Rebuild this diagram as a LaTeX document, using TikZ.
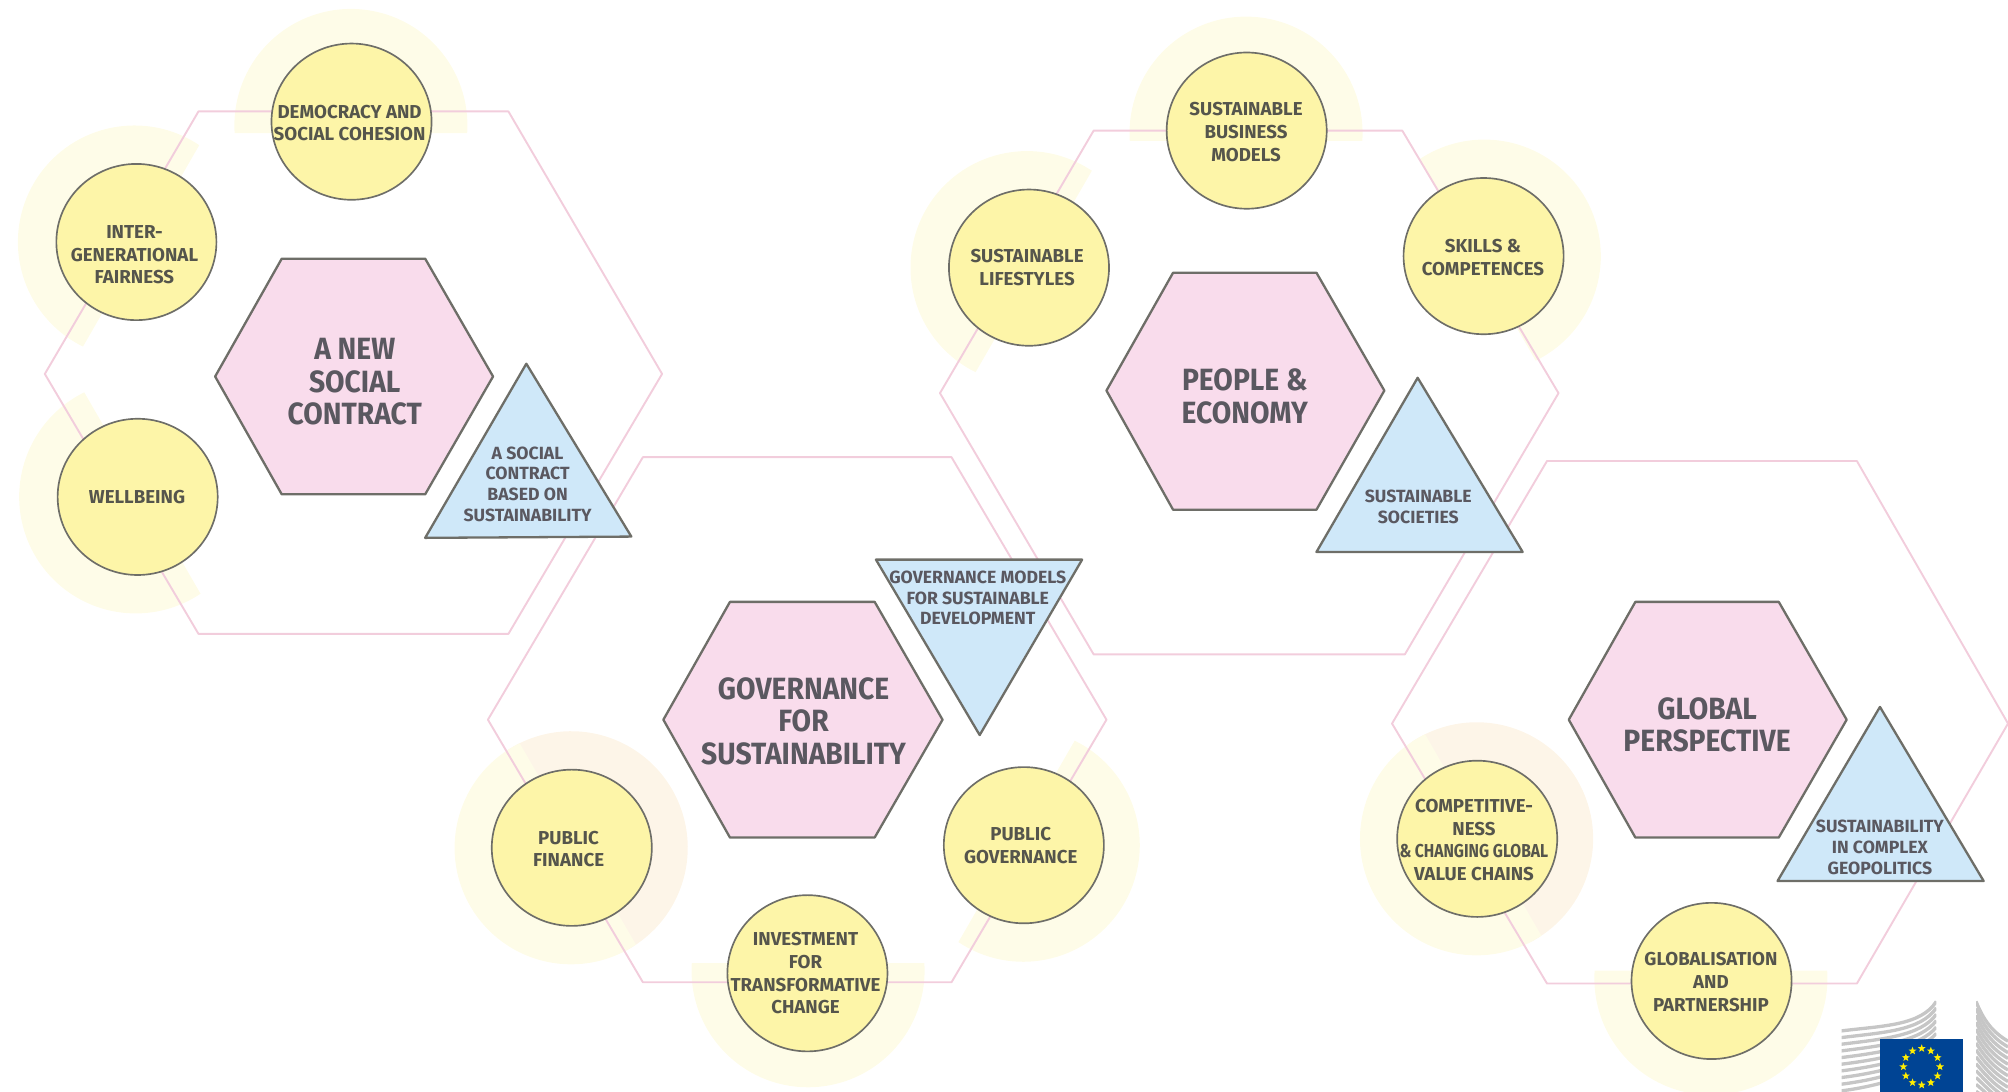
\documentclass[tikz,border=0pt]{standalone}
\usepackage{fontspec}
\setmainfont{Fira Sans}
\newfontfamily\hexfont{Fira Sans}[FakeStretch=0.92]
\newfontfamily\tightfont{Fira Sans}[FakeStretch=0.84]
\usetikzlibrary{shapes.geometric}
\definecolor{halo}{HTML}{FEFCE8}
\definecolor{peach}{HTML}{FDF5E8}
\definecolor{ringline}{HTML}{F2CDDC}
\definecolor{pinkfill}{HTML}{F9DCEC}
\definecolor{bluefill}{HTML}{CFE8F9}
\definecolor{yellowfill}{HTML}{FDF5A8}
\definecolor{edgegray}{HTML}{6E6E68}
\definecolor{txt}{HTML}{55554C}
\definecolor{hextxt}{HTML}{5A5860}
\definecolor{euflag}{HTML}{004494}
\definecolor{eustar}{HTML}{FFED00}
\definecolor{logogray}{HTML}{C6C6C6}
\tikzset{
  ringhex/.style={draw=ringline,line width=1.5pt,line join=round},
  mainhex/.style={draw=edgegray,fill=pinkfill,line width=1.8pt,line join=round},
  tri/.style={draw=edgegray,fill=bluefill,line width=1.8pt,line join=round},
  disc/.style={ellipse,draw=edgegray,fill=yellowfill,line width=1.3pt,minimum width=125pt,minimum height=122pt,inner sep=0pt},
  circtext/.style={align=center,text=txt,inner sep=0pt,font=\fontsize{14.6}{17.8}\selectfont\bfseries},
  tritext/.style={align=center,text=hextxt,inner sep=0pt,font=\fontsize{13.8}{16.2}\selectfont\bfseries},
  hextext/.style={align=center,text=hextxt,inner sep=0pt,font=\hexfont\fontsize{24}{25.4}\selectfont\bfseries},
  logostripe/.style={draw=logogray,line width=2.6pt},
  eustarnode/.style={star,star points=5,star point ratio=2.4,fill=eustar,inner sep=0pt,minimum size=6.5pt}
}
% half disc: centre, canvas angle of its outward direction, colour
\newcommand{\halfhalo}[4]{\fill[#4,shift={(#1,#2)},rotate=#3-90] (90.8pt,-6pt) arc[start angle=-3.8,end angle=183.8,radius=91pt] -- cycle;}
\begin{document}
\begin{tikzpicture}[x=1pt,y=-1pt]
\useasboundingbox (0,0) rectangle (1568,852.7);
\clip (0,0) rectangle (1568,852.7);
% halos
\halfhalo{274}{98}{90}{halo}
\halfhalo{105}{189}{150}{halo}
\halfhalo{106}{388}{210}{halo}
\halfhalo{973}{104}{90}{halo}
\halfhalo{802}{209}{150}{halo}
\halfhalo{1159}{200}{30}{halo}
\halfhalo{446}{662}{30}{peach}
\halfhalo{446}{662}{210}{halo}
\halfhalo{799}{660}{-30}{halo}
\halfhalo{631}{758}{-90}{halo}
\halfhalo{1153}{655}{30}{peach}
\halfhalo{1153}{655}{210}{halo}
\halfhalo{1336}{764}{-90}{halo}
% outer hexagons
\draw[ringhex] (155,87) -- (397,87) -- (517,292) -- (397,495) -- (155,495) -- (35,292) -- cycle;
\draw[ringhex] (502,357) -- (743,357) -- (864,562) -- (743,767) -- (502,767) -- (381,562) -- cycle;
\draw[ringhex] (854,102) -- (1095,102) -- (1217,307) -- (1097,511) -- (854,511) -- (734,307) -- cycle;
\draw[ringhex] (1208,360) -- (1450,360) -- (1568,565) -- (1450,768) -- (1208,768) -- (1087,565) -- cycle;
% central hexagons
\draw[mainhex] (220,202) -- (332,202) -- (385,294) -- (332,386) -- (220,386) -- (168,294) -- cycle;
\draw[mainhex] (570,470) -- (683,470) -- (736,562) -- (683,654) -- (570,654) -- (518,562) -- cycle;
\draw[mainhex] (916,213) -- (1028,213) -- (1081,305) -- (1028,398) -- (916,398) -- (864,305) -- cycle;
\draw[mainhex] (1277,470) -- (1389,470) -- (1442,562) -- (1389,654) -- (1277,654) -- (1225,562) -- cycle;
\node[hextext] (hexa) at (277,298) {A NEW\\SOCIAL\\CONTRACT};
\node[hextext] (hexb) at (627.5,563) {GOVERNANCE\\FOR\\SUSTAINABILITY};
\node[hextext] (hexc) at (972,309.5) {PEOPLE \&\\ECONOMY};
\node[hextext] (hexd) at (1333,566) {GLOBAL\\PERSPECTIVE};
% triangles
\draw[tri] (411,284) -- (493,419) -- (332,420) -- cycle;
\draw[tri] (684,437) -- (845,437) -- (765,574) -- cycle;
\draw[tri] (1107,295) -- (1189,431) -- (1028,431) -- cycle;
\draw[tri] (1468,552) -- (1549,688) -- (1388,688) -- cycle;
\node[tritext] (tria) at (412,378) {A SOCIAL\\CONTRACT\\BASED ON\\SUSTAINABILITY};
\node[tritext] (trib) at (763.5,467) {GOVERNANCE MODELS\\FOR SUSTAINABLE\\DEVELOPMENT};
\node[tritext] (tric) at (1107.5,396) {SUSTAINABLE\\SOCIETIES};
\node[tritext] (trid) at (1468,661.5) {SUSTAINABILITY\\IN COMPLEX\\GEOPOLITICS};
% discs
\node[disc] (dem) at (274.5,95) {};
\node[disc] (int) at (106.5,189) {};
\node[disc] (wel) at (107.5,388) {};
\node[disc] (sbm) at (973.5,102) {};
\node[disc] (lif) at (803.5,209) {};
\node[disc] (ski) at (1158.5,200) {};
\node[disc] (pfi) at (446.5,662) {};
\node[disc] (pgo) at (799.5,660) {};
\node[disc] (inv) at (630.5,760) {};
\node[disc] (com) at (1153.5,655) {};
\node[disc] (glo) at (1336.5,766) {};
\node[circtext] (demt) at (273,96) {DEMOCRACY AND\\SOCIAL COHESION};
\node[circtext] (intt) at (105,199) {INTER-\\GENERATIONAL\\FAIRNESS};
\node[circtext] (welt) at (107,388.5) {WELLBEING};
\node[circtext] (sbmt) at (973,103) {SUSTAINABLE\\BUSINESS\\MODELS};
\node[circtext] (lift) at (802,209) {SUSTAINABLE\\LIFESTYLES};
\node[circtext] (skit) at (1158,201) {SKILLS \&\\COMPETENCES};
\node[circtext] (pfit) at (444,663) {PUBLIC\\FINANCE};
\node[circtext] (pgot) at (797,660) {PUBLIC\\GOVERNANCE};
\node[circtext] (invt) at (629,760) {INVESTMENT\\FOR\\TRANSFORMATIVE\\CHANGE};
\node[circtext] (comt) at (1151,656) {COMPETITIVE-\\NESS\\{\tightfont\bfseries \&\,CHANGING GLOBAL}\\VALUE CHAINS};
\node[circtext] (glot) at (1336,767) {GLOBALISATION\\AND\\PARTNERSHIP};
% logo
\begin{scope}
\clip (1438,770) rectangle (1512,853);
\foreach \k in {0,...,9}
  \draw[logostripe] (1438,805+5.2*\k) .. controls (1470,801+5.2*\k) and (1500,801+4*\k) .. (1512,782+5*\k);
\end{scope}
\begin{scope}
\clip (1543,770) rectangle (1568,853);
\foreach \k in {0,...,13}
  \draw[logostripe] (1543,782+5.4*\k) .. controls (1549,797+4.5*\k) and (1556,806+4.5*\k) .. (1568,813+4.5*\k);
\end{scope}
\fill[euflag] (1468,811) rectangle (1533,853);
\foreach \a in {0,30,...,330}
  \node[eustarnode] (star\a) at ({1500.6+14.3*cos(\a)},{833-14.3*sin(\a)}) {};
\end{tikzpicture}
\end{document}
